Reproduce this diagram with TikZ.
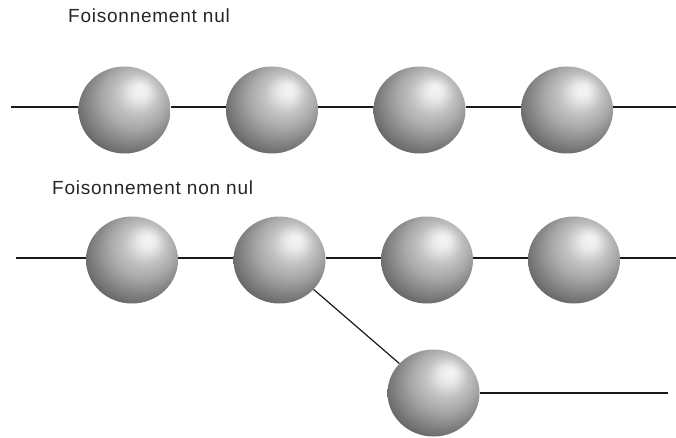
\documentclass[tikz,border=0pt]{standalone}
\usepackage{fontspec}
\newfontfamily\lbl{Liberation Sans}[LetterSpace=4]
\usetikzlibrary{shapes.geometric}
\definecolor{sA}{gray}{0.95}
\definecolor{sB}{gray}{0.91}
\definecolor{sC}{gray}{0.76}
\definecolor{sD}{gray}{0.66}
\definecolor{sE}{gray}{0.52}
\definecolor{sF}{gray}{0.40}
\pgfdeclareradialshading{spheresh}{\pgfpoint{9bp}{12bp}}{color(0bp)=(sA); color(2bp)=(sA); color(5bp)=(sB); color(11.5bp)=(sC); color(18bp)=(sD); color(25bp)=(sE); color(31bp)=(sF); color(50bp)=(sF)}
\tikzset{
  ball/.style={ellipse, minimum width=92pt, minimum height=87pt, inner sep=0pt, draw=none, shading=spheresh},
  link/.style={line width=1.2pt, black!90},
  lab/.style={anchor=base west, inner sep=0pt, text=black!85, font=\lbl\fontsize{19}{22}\selectfont}
}
\begin{document}
\begin{tikzpicture}[x=1pt,y=1pt]
\useasboundingbox (0,0) rectangle (676,437);
% labels
\node[lab] (t1) at (68,414) {Foisonnement nul};
\node[lab] (t2) at (52,243) {Foisonnement non nul};
% row 1
\node[ball] (a1) at (124.5,327) {};
\node[ball] (a2) at (272,327) {};
\node[ball] (a3) at (419.5,327) {};
\node[ball] (a4) at (567,327) {};
\coordinate (la) at (11,330);
\coordinate (ra) at (676,330);
\draw[link] (la) -- ([yshift=3pt]a1.west);
\draw[link] ([yshift=3pt]a1.east) -- ([yshift=3pt]a2.west);
\draw[link] ([yshift=3pt]a2.east) -- ([yshift=3pt]a3.west);
\draw[link] ([yshift=3pt]a3.east) -- ([yshift=3pt]a4.west);
\draw[link] ([yshift=3pt]a4.east) -- (ra);
% row 2
\node[ball] (b1) at (132,177) {};
\node[ball] (b2) at (279.5,177) {};
\node[ball] (b3) at (427,177) {};
\node[ball] (b4) at (574,177) {};
\coordinate (lb) at (16,179);
\coordinate (rb) at (676,179);
\draw[link] (lb) -- ([yshift=2pt]b1.west);
\draw[link] ([yshift=2pt]b1.east) -- ([yshift=2pt]b2.west);
\draw[link] ([yshift=2pt]b2.east) -- ([yshift=2pt]b3.west);
\draw[link] ([yshift=2pt]b3.east) -- ([yshift=2pt]b4.west);
\draw[link] ([yshift=2pt]b4.east) -- (rb);
% branch
\node[ball] (c) at (433.5,44) {};
\coordinate (rc) at (668,44);
\draw[link] (b2) -- (c);
\draw[link] (c.east) -- (rc);
\end{tikzpicture}
\end{document}
